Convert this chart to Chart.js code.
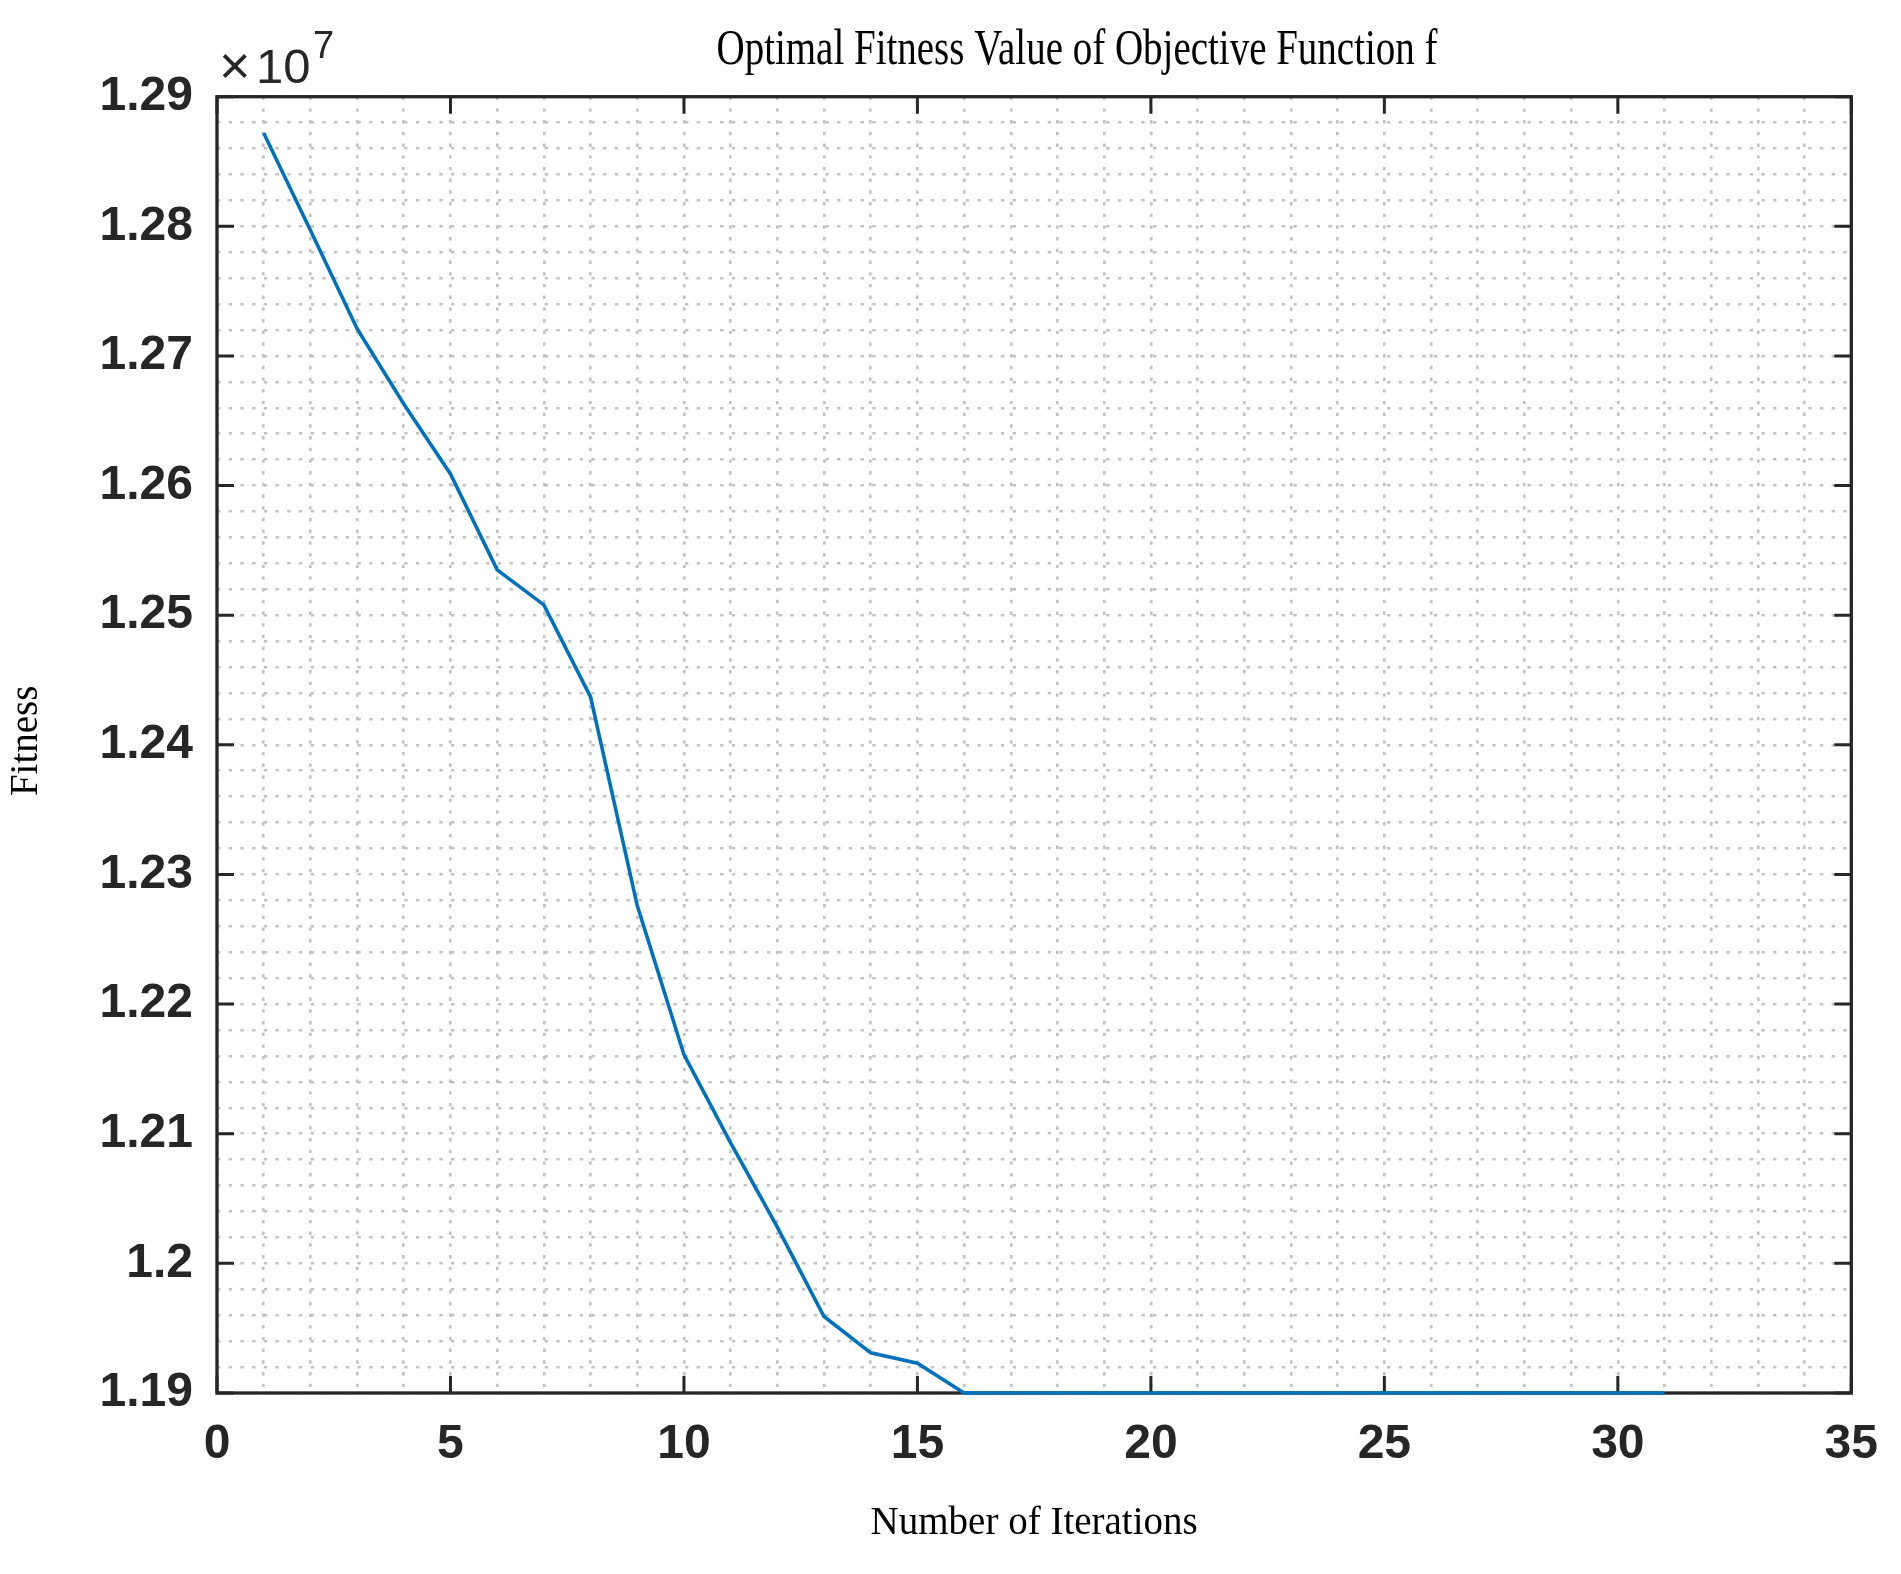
<!DOCTYPE html>
<html>
<head>
<meta charset="utf-8">
<script src="https://cdn.jsdelivr.net/npm/chart.js@4/dist/chart.umd.min.js"></script>
<style>
  html, body { margin: 0; padding: 0; background: #ffffff; }
  canvas { display: block; }
</style>
</head>
<body>
<canvas id="c" width="1901" height="1574" style="width:1901px;height:1574px"></canvas>
<script>
// ---- data ----
const iterations = [1,2,3,4,5,6,7,8,9,10,11,12,13,14,15,16,17,18,19,20,21,22,23,24,25,26,27,28,29,30,31];
const fitness = [
  12872000, 12797000, 12721000, 12663000, 12609000, 12535000, 12508000, 12437000,
  12276000, 12161000, 12093000, 12028000, 11959000, 11931000, 11923000,
  11900000, 11900000, 11900000, 11900000, 11900000, 11900000, 11900000, 11900000,
  11900000, 11900000, 11900000, 11900000, 11900000, 11900000, 11900000, 11900000
];
const xMajorTicks = [0, 5, 10, 15, 20, 25, 30, 35];
const yMajorTicks = [1.19, 1.20, 1.21, 1.22, 1.23, 1.24, 1.25, 1.26, 1.27, 1.28, 1.29];
const yScaleFactor = 1e7;
const titleText = 'Optimal Fitness Value of Objective Function f';
const xLabelText = 'Number of Iterations';
const yLabelText = 'Fitness';

const AXIS_COLOR = '#262626';
const GRID_COLOR = '#c2c2c2';
const LINE_COLOR = '#0072BD';
const SANS = '"Liberation Sans", Arial, Helvetica, sans-serif';
const SERIF = '"Liberation Serif", "Times New Roman", serif';
const TICK_FONT = { family: SANS, size: 48, weight: 'bold' };

const isMajorY = v => yMajorTicks.some(t => Math.abs(v / yScaleFactor - t) < 1e-6);
const isMajorX = v => xMajorTicks.some(t => Math.abs(v - t) < 1e-6);

const framePlugin = {
  id: 'frame',
  beforeDatasetsDraw(chart) {
    const {ctx, chartArea: a, scales: {x, y}} = chart;
    ctx.save();
    ctx.strokeStyle = AXIS_COLOR;
    ctx.lineWidth = 3.3;
    ctx.setLineDash([]);
    ctx.strokeRect(a.left, a.top, a.right - a.left, a.bottom - a.top);
    const tl = 17;
    ctx.lineWidth = 3;
    ctx.beginPath();
    xMajorTicks.forEach(v => {
      const px = x.getPixelForValue(v);
      ctx.moveTo(px, a.bottom); ctx.lineTo(px, a.bottom - tl);
      ctx.moveTo(px, a.top); ctx.lineTo(px, a.top + tl);
    });
    yMajorTicks.forEach(v => {
      const py = y.getPixelForValue(v * yScaleFactor);
      ctx.moveTo(a.left, py); ctx.lineTo(a.left + tl, py);
      ctx.moveTo(a.right, py); ctx.lineTo(a.right - tl, py);
    });
    ctx.stroke();
    ctx.restore();
  },
  afterDraw(chart) {
    const {ctx, chartArea: a} = chart;
    ctx.save();
    ctx.fillStyle = '#000000';
    ctx.textBaseline = 'alphabetic';
    // title (condensed serif, as in the reference)
    ctx.font = '51px ' + SERIF;
    ctx.textAlign = 'center';
    const tw = ctx.measureText(titleText).width;
    const sx = 721 / tw;
    ctx.save();
    ctx.translate(1077, 64);
    ctx.scale(sx, 1);
    ctx.fillText(titleText, 0, 0);
    ctx.restore();
    // x label
    ctx.font = '39px ' + SERIF;
    ctx.fillText(xLabelText, (a.left + a.right) / 2, 1534);
    // y label
    ctx.save();
    ctx.translate(37, (a.top + a.bottom) / 2 - 4);
    ctx.rotate(-Math.PI / 2);
    ctx.fillText(yLabelText, 0, 0);
    ctx.restore();
    // exponent
    ctx.fillStyle = AXIS_COLOR;
    ctx.textAlign = 'left';
    ctx.font = '54px ' + SANS;
    ctx.fillText('\u00d7', 219, 84);
    ctx.font = '49px ' + SANS;
    ctx.fillText('10', 256, 83);
    ctx.font = '38px ' + SANS;
    ctx.fillText('7', 313, 58);
    ctx.restore();
  }
};

new Chart(document.getElementById('c'), {
  type: 'line',
  data: {
    datasets: [{
      data: iterations.map((it, i) => ({ x: it, y: fitness[i] })),
      borderColor: LINE_COLOR,
      borderWidth: 3.6,
      pointRadius: 0,
      tension: 0,
      fill: false,
      clip: 6
    }]
  },
  options: {
    responsive: false,
    animation: false,
    devicePixelRatio: 1,
    layout: { padding: { left: 0, right: 44, top: 96.7, bottom: 0 } },
    plugins: { legend: { display: false }, title: { display: false }, tooltip: { enabled: false } },
    scales: {
      x: {
        type: 'linear',
        min: 0, max: 35,
        afterFit(s) { s.height = 181; },
        grid: { color: GRID_COLOR, lineWidth: 2.6, drawTicks: false },
        border: { display: false, dash: [3.4, 8.3] },
        ticks: {
          stepSize: 1, autoSkip: false, maxTicksLimit: 100, maxRotation: 0,
          padding: 23, color: AXIS_COLOR, font: TICK_FONT,
          callback: v => isMajorX(v) ? String(v) : ''
        }
      },
      y: {
        type: 'linear',
        min: 11900000, max: 12900000,
        afterFit(s) { s.width = 217; },
        grid: { color: GRID_COLOR, lineWidth: 2.6, drawTicks: false },
        border: { display: false, dash: [3.4, 8.3] },
        ticks: {
          stepSize: 20000, autoSkip: false, maxTicksLimit: 100,
          padding: 24, color: AXIS_COLOR, font: TICK_FONT,
          callback: v => isMajorY(v) ? String(Number((v / yScaleFactor).toFixed(2))) : ''
        }
      }
    }
  },
  plugins: [framePlugin]
});
</script>
</body>
</html>
